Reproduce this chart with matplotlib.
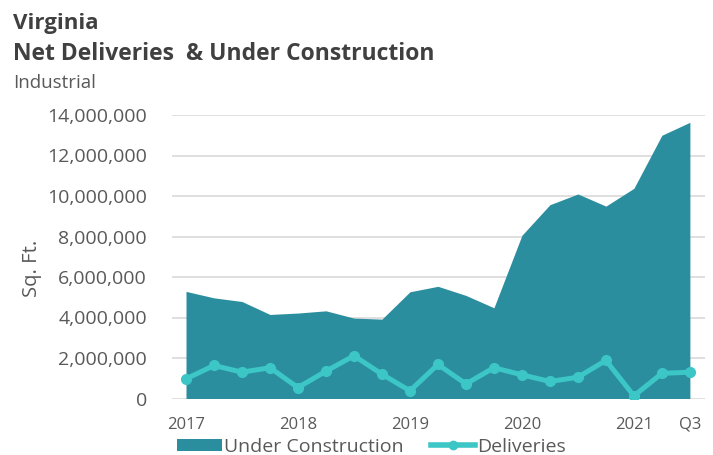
import matplotlib
matplotlib.use("Agg")
import matplotlib.pyplot as plt
from matplotlib.lines import Line2D
from matplotlib.patches import Patch
from matplotlib.ticker import FuncFormatter

quarters = ["2017 Q1", "2017 Q2", "2017 Q3", "2017 Q4",
            "2018 Q1", "2018 Q2", "2018 Q3", "2018 Q4",
            "2019 Q1", "2019 Q2", "2019 Q3", "2019 Q4",
            "2020 Q1", "2020 Q2", "2020 Q3", "2020 Q4",
            "2021 Q1", "2021 Q2", "2021 Q3"]
under_construction = [5.29e6, 4.97e6, 4.79e6, 4.15e6,
                      4.22e6, 4.33e6, 3.97e6, 3.92e6,
                      5.27e6, 5.54e6, 5.09e6, 4.48e6,
                      8.06e6, 9.57e6, 10.1e6, 9.5e6,
                      10.38e6, 13.0e6, 13.64e6]
deliveries = [0.97e6, 1.63e6, 1.30e6, 1.52e6,
              0.54e6, 1.35e6, 2.11e6, 1.20e6,
              0.38e6, 1.68e6, 0.72e6, 1.52e6,
              1.17e6, 0.84e6, 1.05e6, 1.88e6,
              0.13e6, 1.24e6, 1.30e6]
tick_idx = [0, 4, 8, 12, 16, 18]
tick_labels = ["2017", "2018", "2019", "2020", "2021", "Q3"]
y_ticks = [0, 2e6, 4e6, 6e6, 8e6, 10e6, 12e6, 14e6]

plt.rcParams['font.family'] = ['Open Sans', 'DejaVu Sans']

AREA = "#2B8E9F"
LINE = "#3CC6C6"
TXT = "#595959"
TITLE = "#404040"

W, H = 713, 455
fig = plt.figure(figsize=(W / 100, H / 100), dpi=100)
ax = fig.add_axes([172 / W, 1 - 398.5 / H, (705 - 172) / W, (398.5 - 115) / H])

x = list(range(len(quarters)))
ax.fill_between(x, 0, under_construction, color=AREA, linewidth=0, zorder=2)
ax.plot(x, deliveries, color=LINE, linewidth=3.6, marker="o", markersize=7,
        zorder=3, solid_joinstyle="round")

ax.set_xlim(-0.5, 18.54)
ax.set_ylim(0, 14e6)
ax.set_yticks(y_ticks)
ax.yaxis.set_major_formatter(FuncFormatter(lambda v, p: f"{int(v):,}"))
ax.set_xticks(tick_idx)
ax.set_xticklabels(tick_labels)
ax.grid(axis="y", color="#D9D9D9", linewidth=1.2, zorder=0)
ax.set_axisbelow(True)
for s in ax.spines.values():
    s.set_visible(False)
ax.tick_params(axis="both", length=0, colors=TXT)
ax.tick_params(axis="y", pad=18, labelsize=14)
ax.tick_params(axis="x", pad=13, labelsize=12)
ax.set_ylabel("Sq. Ft.", color=TXT, fontsize=14.5)
ax.yaxis.set_label_coords((42 - 172) / 533, (398.5 - 268) / 283.5)

fig.text(13 / W, 1 - 28.5 / H, "Virginia", fontsize=16, fontweight="bold",
         color=TITLE, va="baseline", ha="left")
fig.text(13 / W, 1 - 59.5 / H, "Net Deliveries  & Under Construction", fontsize=16.5,
         fontweight="bold", color=TITLE, va="baseline", ha="left")
fig.text(13 / W, 1 - 87.5 / H, "Industrial", fontsize=13.5, color=TXT,
         va="baseline", ha="left")

handles = [Patch(facecolor=AREA, edgecolor="none"),
           Line2D([0], [0], color=LINE, linewidth=4, marker="o", markersize=6)]
leg = fig.legend(handles, ["Under Construction", "Deliveries"],
                 loc="center left", bbox_to_anchor=(177 / W, 1 - 447 / H),
                 ncol=2, frameon=False, fontsize=14, handlelength=2.3,
                 handleheight=0.6, handletextpad=0.1, columnspacing=1.4,
                 labelcolor=TXT, borderaxespad=0, borderpad=0)

fig.savefig("out.png", dpi=100)
